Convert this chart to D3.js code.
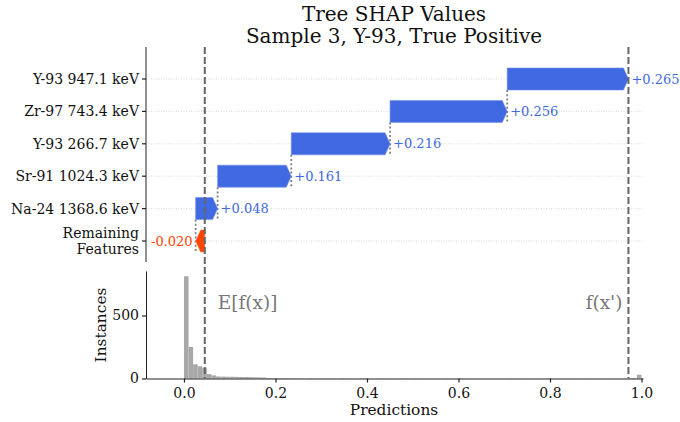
<!DOCTYPE html>
<html><head><meta charset="utf-8">
<script src="https://cdn.jsdelivr.net/npm/d3@7"></script>
<style>body{margin:0;background:#fff} svg{display:block} text{font-family:"DejaVu Serif",serif}</style>
</head><body><svg id="c" width="680" height="422"></svg>
<script>
const features = ["Y-93 947.1 keV","Zr-97 743.4 keV","Y-93 266.7 keV","Sr-91 1024.3 keV","Na-24 1368.6 keV","Remaining Features"];
const shapValues = [0.265,0.256,0.216,0.161,0.048,-0.020];
const baseValue = 0.0455;
const binStart = 0, binWidth = 0.01;
const histCounts = [
 811,250,113,97,84,35,25,16,15,14,
 14,13,12,12,11,10,9,8,4,3,
 3,3,2,2,2,2,1,2,1,1,
 1,2,1,1,2,1,1,0,1,1,
 1,0,1,1,0,1,0,1,1,0,
 1,0,1,0,0,1,0,1,0,0,
 1,0,0,1,0,1,0,0,1,0,
 0,1,0,0,1,0,1,0,0,1,
 0,1,0,0,1,0,1,0,1,0,
 1,0,1,1,0,1,1,2,3,30];
const xTicks = [0,0.2,0.4,0.6,0.8,1.0];
const yTicks = [0,500];
const title = ["Tree SHAP Values","Sample 3, Y-93, True Positive"];

const svg = d3.select("#c");
const blue = "#4169E1", red = "#FF4500";
const x = d3.scaleLinear().domain([-0.083, 1.0033]).range([146, 643]);
const yRow = d3.scaleLinear().domain([0, 5]).range([79, 241]);
const topTop = 47, topBot = 262;
const hy = d3.scaleLinear().domain([0, 853]).range([378.5, 271]);
const barH = 22;

// title
svg.append("g").selectAll("text").data(title).join("text")
  .attr("x", 394).attr("y", (d,i)=>21+i*22).attr("text-anchor","middle")
  .attr("font-size",20).attr("fill","#111").text(d=>d);

// grid lines
svg.append("g").selectAll("line").data(features).join("line")
  .attr("x1",146).attr("x2",643).attr("y1",(d,i)=>yRow(i)).attr("y2",(d,i)=>yRow(i))
  .attr("stroke","#d0d0d0").attr("stroke-width",0.8).attr("stroke-dasharray","1,1.5");

// compute waterfall
const n = features.length;
const segs = [];
let cum = baseValue;
for (let i = n-1; i >= 0; i--) {
  segs[i] = {i, start: cum, end: cum + shapValues[i], v: shapValues[i]};
  cum += shapValues[i];
}
const finalValue = cum;

// connectors (dotted)
const conn = svg.append("g");
for (let i = 1; i < n; i++) {
  const s = segs[i];
  conn.append("line").attr("x1",x(s.end)).attr("x2",x(s.end))
    .attr("y1",yRow(i-1)+barH/2).attr("y2",yRow(i)+barH/2)
    .attr("stroke","#808080").attr("stroke-width",1.8).attr("stroke-dasharray","2,2.2");
}

// bars as arrows
function arrowPath(s) {
  const x0 = x(s.start), x1 = x(s.end), yc = yRow(s.i);
  const dir = x1 >= x0 ? 1 : -1;
  const w = Math.abs(x1-x0);
  const head = Math.min(5, w*0.6);
  const xb = x1 - dir*head;
  return `M${x0},${yc-barH/2}L${xb},${yc-barH/2}L${x1},${yc}L${xb},${yc+barH/2}L${x0},${yc+barH/2}Z`;
}
svg.append("g").selectAll("path").data(segs).join("path")
  .attr("d", arrowPath).attr("fill", d=>d.v>=0?blue:red)
  .attr("stroke", d=>d.v>=0?"#6f8ff0":"#ff7a4a").attr("stroke-width",0.6);

// value labels
const fmt = v => (v>=0?"+":"") + v.toFixed(3);
svg.append("g").selectAll("text").data(segs).join("text")
  .attr("x", d=> d.v>=0 ? x(d.end)+3 : x(d.end)-3)
  .attr("y", d=> yRow(d.i)+4.5)
  .attr("text-anchor", d=> d.v>=0 ? "start":"end")
  .attr("font-size",13).attr("fill", d=>d.v>=0?blue:red).text(d=>fmt(d.v));

// left spine + ticks + labels (top)
svg.append("line").attr("x1",146).attr("x2",146).attr("y1",topTop).attr("y2",topBot)
  .attr("stroke","#222").attr("stroke-width",1);
const yl = svg.append("g");
features.forEach((f,i)=>{
  yl.append("line").attr("x1",142).attr("x2",146).attr("y1",yRow(i)).attr("y2",yRow(i))
    .attr("stroke","#222").attr("stroke-width",1.2);
  const parts = f === "Remaining Features" ? ["Remaining","Features"] : [f];
  parts.forEach((p,k)=>{
    yl.append("text").attr("x",139).attr("y", yRow(i)+5 + (k - (parts.length-1)/2)*16.5)
      .attr("text-anchor","end").attr("font-size",14).attr("fill","#111").text(p);
  });
});

// histogram
const hist = svg.append("g");
hist.selectAll("rect").data(histCounts).join("rect")
  .attr("x",(d,i)=>x(binStart+i*binWidth)).attr("width",(d,i)=>x(binStart+(i+1)*binWidth)-x(binStart+i*binWidth))
  .attr("y",d=>hy(d)).attr("height",d=>hy(0)-hy(d)).attr("fill","#a8a8a8");

// hist axes
const xAxis = d3.axisBottom(x).tickValues(xTicks).tickFormat(d3.format(".1f")).tickSize(4).tickSizeOuter(0);
const gx = svg.append("g").attr("transform",`translate(0,${hy(0)})`).call(xAxis);
gx.select(".domain").attr("stroke","#222");
gx.selectAll(".tick line").attr("stroke","#222").attr("stroke-width",1.2);
gx.selectAll("text").attr("font-family","DejaVu Serif").attr("font-size",14).attr("fill","#111").attr("dy","0.9em");
const yAxis = d3.axisLeft(hy).tickValues(yTicks).tickSize(4).tickSizeOuter(0);
const gy = svg.append("g").attr("transform",`translate(146,0)`).call(yAxis);
gy.select(".domain").attr("stroke","#222");
gy.selectAll(".tick line").attr("stroke","#222").attr("stroke-width",1.2);
gy.selectAll("text").attr("font-family","DejaVu Serif").attr("font-size",14).attr("fill","#111");

svg.append("text").attr("x",394).attr("y",415).attr("text-anchor","middle").attr("font-size",15.4).attr("fill","#111").text("Predictions");
svg.append("text").attr("transform","translate(106,325) rotate(-90)").attr("text-anchor","middle").attr("font-size",15.4).attr("fill","#111").text("Instances");

// dashed vertical lines
[baseValue, finalValue].forEach(v=>{
  svg.append("line").attr("x1",x(v)).attr("x2",x(v)).attr("y1",topTop).attr("y2",hy(0))
    .attr("stroke","#666").attr("stroke-width",2).attr("stroke-dasharray","7,3");
});
svg.append("text").attr("x",x(baseValue)+13).attr("y",309).attr("font-size",18.5).attr("fill","#777").text("E[f(x)]");
svg.append("text").attr("x",x(finalValue)-6).attr("y",309).attr("text-anchor","end").attr("font-size",18.5).attr("fill","#777").text("f(x')");
</script></body></html>
